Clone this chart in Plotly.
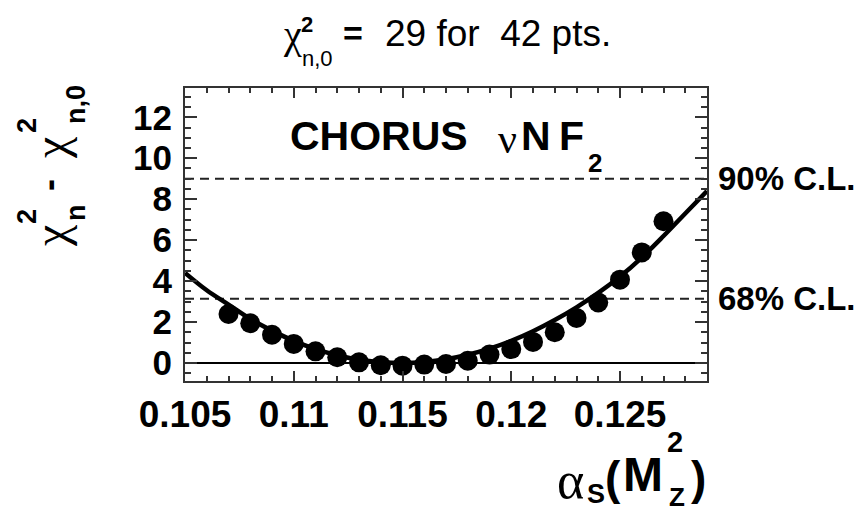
import plotly.graph_objects as go

# ---------------- data ----------------
alpha_pts = [0.107, 0.108, 0.109, 0.110, 0.111, 0.112, 0.113, 0.114, 0.115, 0.116, 0.117,
             0.118, 0.119, 0.120, 0.121, 0.122, 0.123, 0.124, 0.125, 0.126, 0.127]
dchi2_pts = [2.39, 1.94, 1.38, 0.93, 0.57, 0.28, 0.03, -0.11, -0.13, -0.08, -0.05,
             0.11, 0.41, 0.68, 1.03, 1.50, 2.20, 2.96, 4.07, 5.40, 6.92]

alpha_fit = [0.1050, 0.106, 0.107, 0.108, 0.109, 0.110, 0.111, 0.112, 0.113, 0.114, 0.115,
             0.116, 0.117, 0.118, 0.119, 0.120, 0.121, 0.122, 0.123, 0.124, 0.125,
             0.126, 0.127, 0.128, 0.129]
dchi2_fit = [4.40, 3.55, 2.85, 2.15, 1.58, 1.08, 0.68, 0.38, 0.16, 0.04, 0.00,
             0.05, 0.18, 0.40, 0.70, 1.08, 1.55, 2.10, 2.72, 3.42, 4.22,
             5.15, 6.20, 7.30, 8.40]

cl_levels = [9.0, 3.14]
cl_labels = ["90% C.L.", "68% C.L."]

x_tickvals = [0.105, 0.11, 0.115, 0.12, 0.125]
x_ticktext = ["0.105", "0.11", "0.115", "0.12", "0.125"]
y_tickvals = [0, 2, 4, 6, 8, 10, 12]
y_ticktext = ["0", "2", "4", "6", "8", "10", "12"]

# ---------------- layout geometry ----------------
W, H = 866, 512
L, R, T, B = 177, 699, 80, 373

def px(x):
    return (x - L) / (R - L)

def py(y):
    return (B - y) / (B - T)

SANS = "Liberation Sans, Arial, sans-serif"
SERIF = "Liberation Serif, Times New Roman, serif"
FRAME = "#333333"

fig = go.Figure()

fig.add_trace(go.Scatter(
    x=alpha_fit, y=dchi2_fit, mode="lines",
    line=dict(color="black", width=4.5, shape="spline"),
    hoverinfo="skip", showlegend=False))

fig.add_trace(go.Scatter(
    x=alpha_pts, y=dchi2_pts, mode="markers",
    marker=dict(color="black", size=20),
    showlegend=False))

for lev in cl_levels:
    fig.add_shape(type="line", xref="paper", x0=0, x1=1, yref="y", y0=lev, y1=lev,
                  line=dict(color="#222222", width=2, dash="9px,6px"), layer="below")

ann = []

def add(text, x, y, size, family=SANS, weight="bold", xanchor="center", yanchor="middle", angle=0):
    ann.append(dict(text=text, x=px(x), y=py(y), xref="paper", yref="paper",
                    xanchor=xanchor, yanchor=yanchor, showarrow=False, textangle=angle,
                    borderpad=0,
                    font=dict(family=family, size=size, color="black", weight=weight)))

# CL labels
for lev, lab in zip(cl_levels, cl_labels):
    ann.append(dict(text=lab, x=px(709), y=lev, xref="paper", yref="y",
                    xanchor="left", yanchor="middle", showarrow=False, borderpad=0,
                    font=dict(family=SANS, size=33, color="black", weight="bold")))

# Title: chi^2_{n,0} = 29 for 42 pts.
add("χ", 284, 27, 40, family=SERIF, weight="normal")
add("2", 299, 16, 22)
add("n,0", 309, 50, 22, weight="normal")
add("=", 345, 25, 34)
add("29 for  42 pts.", 376, 25, 37, weight="normal", xanchor="left")

# In-plot label: CHORUS nu N F2
add("CHORUS", 281, 128, 41, xanchor="left")
add("ν", 499, 131, 42, family=SERIF, weight="normal")
add("N", 528, 128, 41)
add("F", 563, 128, 41)
add("2", 587, 155, 26)

# Y axis title (rotated): chi^2_n - chi^2_{n,0}
add("χ", 42, 228, 48, family=SERIF, weight="normal", angle=-90)
add("2", 19, 209, 27, angle=-90)
add("n", 68, 205, 27, angle=-90)
add("-", 40, 177, 36, angle=-90)
add("χ", 42, 140, 48, family=SERIF, weight="normal", angle=-90)
add("2", 19, 118, 27, angle=-90)
add("n,0", 68, 97, 27, angle=-90)

# X axis title: alpha_S(M^2_Z)
add("α", 562, 472, 52, family=SERIF, weight="normal")
add("S", 588, 486, 27)
add("(", 605, 470, 46)
add("M", 635, 466, 48)
add("2", 667, 434, 29)
add("Z", 669, 489, 26)
add(")", 690, 470, 46)

fig.update_layout(
    width=W, height=H, autosize=False,
    margin=dict(l=L, r=W - R, t=T, b=H - B, pad=0),
    paper_bgcolor="white", plot_bgcolor="white",
    annotations=ann,
    xaxis=dict(
        range=[0.105, 0.129], showgrid=False, zeroline=False,
        tickvals=x_tickvals, ticktext=x_ticktext,
        ticks="inside", ticklen=10, tickwidth=2, tickcolor=FRAME,
        showline=True, linewidth=2, linecolor=FRAME, mirror="ticks",
        tickfont=dict(family=SANS, size=37, color="black", weight="bold"),
        minor=dict(dtick=0.001, tick0=0.105, ticks="inside", ticklen=5, tickwidth=1.5, tickcolor=FRAME),
    ),
    yaxis=dict(
        range=[-0.88, 13.43], showgrid=False,
        zeroline=True, zerolinecolor="black", zerolinewidth=1.5,
        tickvals=y_tickvals, ticktext=y_ticktext,
        ticks="inside", ticklen=12, tickwidth=2, tickcolor=FRAME,
        showline=True, linewidth=2, linecolor=FRAME, mirror="ticks",
        tickfont=dict(family=SANS, size=35, color="black", weight="bold"),
        ticklabelstandoff=4,
        minor=dict(dtick=0.5, tick0=0, ticks="inside", ticklen=6, tickwidth=1.5, tickcolor=FRAME),
    ),
)

fig.write_html("out.html")
